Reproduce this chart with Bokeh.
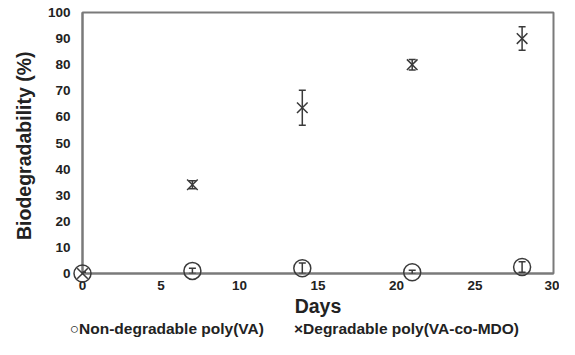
from bokeh.plotting import figure
from bokeh.models import (ColumnDataSource, Range1d, FixedTicker, Whisker, TeeHead,
                          LinearAxis)
from bokeh.embed import file_html
from bokeh.resources import INLINE

days = [0, 7, 14, 21, 28]
nondeg = [0, 1, 2, 0.5, 2.5]
nondeg_err = [0.5, 1, 2, 0.7, 2]
deg = [0, 34, 63.5, 80, 90]
deg_err = [0.5, 1.5, 6.7, 2, 4.5]
x_ticks = [0, 5, 10, 15, 20, 25, 30]
y_ticks = [0, 10, 20, 30, 40, 50, 60, 70, 80, 90, 100]
labels = ["Non-degradable poly(VA)", "Degradable poly(VA-co-MDO)"]

FONT = "Liberation Sans"
TXT = "#222222"
GRID = "#7a7a7a"
MARK = "#3a3a3a"
NBSP = "\u00a0"

src_n = ColumnDataSource(dict(x=days, y=nondeg,
                              lo=[v - e for v, e in zip(nondeg, nondeg_err)],
                              hi=[v + e for v, e in zip(nondeg, nondeg_err)]))
src_d = ColumnDataSource(dict(x=days, y=deg,
                              lo=[v - e for v, e in zip(deg, deg_err)],
                              hi=[v + e for v, e in zip(deg, deg_err)]))

p = figure(width=559, height=339, output_backend="svg", toolbar_location=None,
           x_range=Range1d(0, 30), y_range=Range1d(0, 100),
           min_border_left=82, min_border_right=6, min_border_top=12, min_border_bottom=66)

p.xgrid.visible = False
p.ygrid.visible = False
p.outline_line_color = GRID
p.outline_line_width = 2
p.background_fill_color = "white"

for ax in (p.xaxis[0], p.yaxis[0]):
    ax.axis_line_color = GRID
    ax.axis_line_width = 2
    ax.major_tick_line_color = None
    ax.minor_tick_line_color = None
    ax.major_tick_out = 0
    ax.major_tick_in = 0
    ax.major_label_text_font = FONT
    ax.major_label_text_font_style = "bold"
    ax.major_label_text_font_size = "13.5px"
    ax.major_label_text_color = TXT
    ax.axis_label_text_font = FONT
    ax.axis_label_text_font_style = "bold"
    ax.axis_label_text_font_size = "19.5px"
    ax.axis_label_text_color = TXT

p.xaxis[0].ticker = FixedTicker(ticks=x_ticks)
p.yaxis[0].ticker = FixedTicker(ticks=y_ticks)
p.xaxis[0].axis_label = "Days"
p.yaxis[0].axis_label = "Biodegradability  (%)"
p.xaxis[0].major_label_standoff = 7
p.yaxis[0].major_label_standoff = 12
p.xaxis[0].axis_label_standoff = 2
p.yaxis[0].axis_label_standoff = 10

for src in (src_n, src_d):
    w = Whisker(base="x", upper="hi", lower="lo", source=src, line_color=MARK, line_width=1.5,
                upper_head=TeeHead(size=7, line_color=MARK, line_width=1.5),
                lower_head=TeeHead(size=7, line_color=MARK, line_width=1.5),
                level="overlay")
    p.add_layout(w)

p.scatter("x", "y", source=src_n, marker="circle", size=17, fill_color=None,
          line_color=MARK, line_width=1.5, level="overlay")
p.scatter("x", "y", source=src_d, marker="x", size=15,
          line_color=MARK, line_width=1.5, level="overlay")

# legend line written as the label of an extra, tick-less axis below the chart
legend_text = ("\u25cb" + labels[0] + NBSP * 7 + "\u00d7" + labels[1] + NBSP * 11)
leg_axis = LinearAxis(ticker=FixedTicker(ticks=[]), axis_label=legend_text,
                      axis_line_color=None, major_tick_line_color=None,
                      minor_tick_line_color=None, major_label_text_font_size="0px",
                      major_label_standoff=0, axis_label_standoff=0,
                      axis_label_text_font=FONT, axis_label_text_font_style="bold",
                      axis_label_text_font_size="15.5px", axis_label_text_color=TXT)
p.add_layout(leg_axis, "below")

open("out.html", "w").write(file_html(p, INLINE))
